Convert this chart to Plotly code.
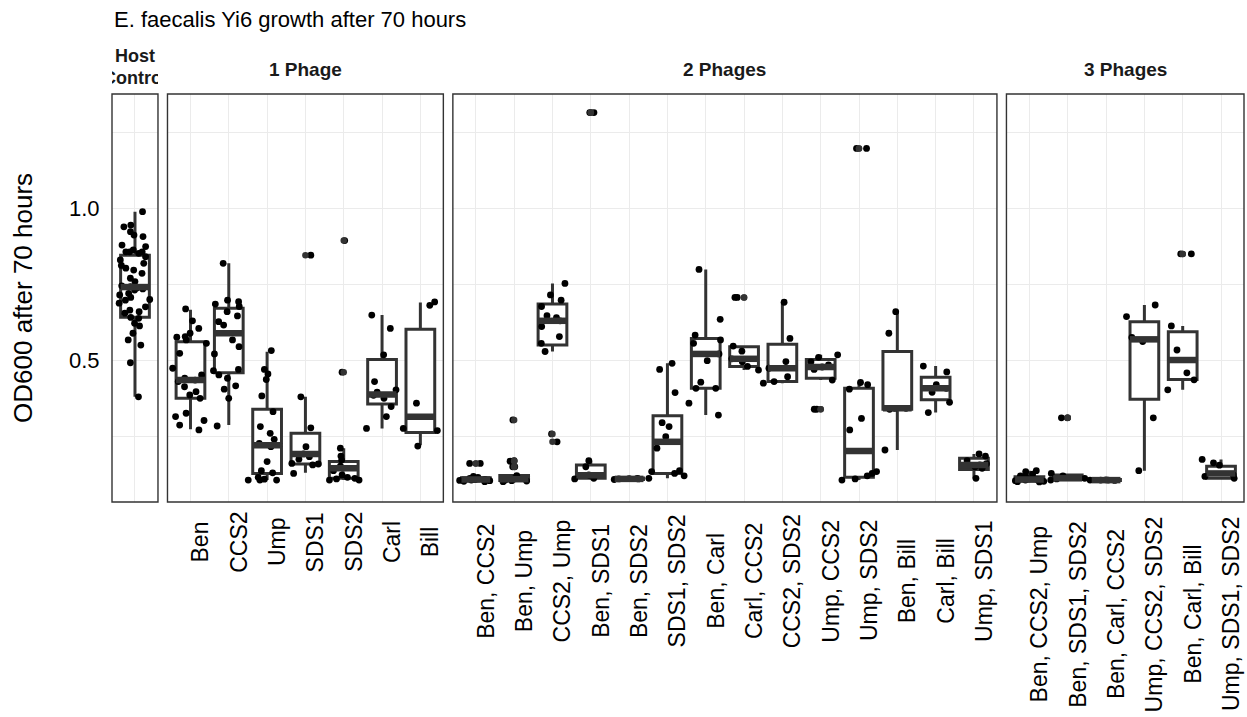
import plotly.graph_objects as go

# ------------------------------------------------------------------
# OD600 of E. faecalis Yi6 after 70 h, grouped by phage cocktail size
# ------------------------------------------------------------------

# Host control (no phage)
host_labels = ["Host Control"]
host_q1 = [0.642]
host_median = [0.741]
host_q3 = [0.846]
host_low = [0.380]
host_high = [0.989]
host_points = [[
    0.989, 0.945, 0.939, 0.923, 0.912, 0.907, 0.879, 0.874, 0.863, 0.857,
    0.857, 0.857, 0.852, 0.841, 0.830, 0.819, 0.803, 0.797, 0.786, 0.770,
    0.759, 0.745, 0.742, 0.738, 0.731, 0.720, 0.715, 0.707, 0.698, 0.688,
    0.676, 0.665, 0.655, 0.641, 0.638, 0.622, 0.613, 0.589, 0.567, 0.550,
    0.492, 0.380, 0.700, 0.735, 0.812, 0.660,
]]

# Single phage
one_labels = ["Ben", "CCS2", "Ump", "SDS1", "SDS2", "Carl", "Bill"]
one_q1 = [0.375, 0.459, 0.128, 0.159, 0.112, 0.356, 0.263]
one_median = [0.435, 0.589, 0.221, 0.192, 0.145, 0.388, 0.314]
one_q3 = [0.561, 0.671, 0.339, 0.260, 0.167, 0.503, 0.602]
one_low = [0.273, 0.287, 0.106, 0.130, 0.106, 0.276, 0.221]
one_high = [0.666, 0.819, 0.528, 0.380, 0.211, 0.649, 0.690]
one_points = [
    [0.669, 0.630, 0.605, 0.589, 0.578, 0.576, 0.567, 0.556, 0.523, 0.474, 0.452,
     0.441, 0.435, 0.430, 0.413, 0.397, 0.386, 0.375, 0.326, 0.315, 0.302, 0.287, 0.271],
    [0.819, 0.698, 0.693, 0.685, 0.677, 0.660, 0.646, 0.627, 0.616, 0.567, 0.545,
     0.521, 0.470, 0.466, 0.452, 0.441, 0.416, 0.405, 0.375, 0.284],
    [0.532, 0.470, 0.455, 0.437, 0.383, 0.331, 0.282, 0.260, 0.240, 0.227, 0.216,
     0.167, 0.137, 0.130, 0.115, 0.106, 0.106, 0.106, 0.109],
    [0.846, 0.380, 0.278, 0.216, 0.192, 0.183, 0.175, 0.161, 0.159, 0.156, 0.128],
    [0.894, 0.461, 0.211, 0.185, 0.172, 0.152, 0.145, 0.137, 0.123, 0.115, 0.112,
     0.110, 0.106, 0.106],
    [0.649, 0.605, 0.518, 0.430, 0.403, 0.395, 0.385, 0.375, 0.348, 0.315, 0.276],
    [0.692, 0.681, 0.359, 0.276, 0.269, 0.218],
]

# Two-phage cocktails
two_labels = ["Ben, CCS2", "Ben, Ump", "CCS2, Ump", "Ben, SDS1", "Ben, SDS2",
              "SDS1, SDS2", "Ben, Carl", "Carl, CCS2", "CCS2, SDS2", "Ump, CCS2",
              "Ump, SDS2", "Ben, Bill", "Carl, Bill", "Ump, SDS1"]
two_q1 = [0.104, 0.105, 0.550, 0.112, 0.108, 0.128, 0.408, 0.480, 0.430, 0.441,
          0.115, 0.339, 0.370, 0.141]
two_median = [0.108, 0.109, 0.630, 0.122, 0.110, 0.232, 0.521, 0.505, 0.474, 0.478,
              0.202, 0.342, 0.408, 0.156]
two_q3 = [0.114, 0.121, 0.685, 0.156, 0.113, 0.318, 0.572, 0.545, 0.553, 0.503,
          0.408, 0.529, 0.444, 0.178]
two_low = [0.100, 0.100, 0.529, 0.110, 0.106, 0.112, 0.320, 0.468, 0.425, 0.435,
           0.106, 0.205, 0.328, 0.112]
two_high = [0.120, 0.125, 0.753, 0.170, 0.115, 0.490, 0.799, 0.547, 0.691, 0.518,
            0.427, 0.660, 0.481, 0.192]
two_points = [
    [0.161, 0.161, 0.118, 0.115, 0.112, 0.110, 0.108, 0.106, 0.105, 0.104, 0.102,
     0.101, 0.108, 0.110],
    [0.304, 0.170, 0.168, 0.150, 0.150, 0.121, 0.110, 0.108, 0.106, 0.104, 0.103, 0.101],
    [0.753, 0.715, 0.698, 0.677, 0.647, 0.640, 0.630, 0.611, 0.578, 0.556, 0.529,
     0.258, 0.232],
    [1.315, 1.315, 0.170, 0.150, 0.123, 0.120, 0.112, 0.110],
    [0.112, 0.110, 0.110, 0.108, 0.111],
    [0.490, 0.470, 0.394, 0.295, 0.282, 0.249, 0.211, 0.137, 0.134, 0.128, 0.120, 0.112],
    [0.799, 0.635, 0.583, 0.567, 0.556, 0.521, 0.499, 0.428, 0.408, 0.408, 0.359, 0.320],
    [0.707, 0.707, 0.547, 0.530, 0.505, 0.495, 0.480, 0.468],
    [0.691, 0.572, 0.496, 0.474, 0.446, 0.430, 0.425],
    [0.518, 0.510, 0.495, 0.485, 0.478, 0.470, 0.435, 0.339, 0.339],
    [1.197, 1.197, 0.427, 0.420, 0.405, 0.309, 0.271, 0.134, 0.128, 0.120, 0.110, 0.106],
    [0.660, 0.589, 0.342, 0.342, 0.339, 0.205],
    [0.481, 0.462, 0.420, 0.408, 0.395, 0.362, 0.328],
    [0.192, 0.185, 0.170, 0.160, 0.156, 0.150, 0.145, 0.112],
]

# Three-phage cocktails
three_labels = ["Ben, CCS2, Ump", "Ben, SDS1, SDS2", "Ben, Carl, CCS2",
                "Ump, CCS2, SDS2", "Ben, Carl, Bill", "Ump, SDS1, SDS2"]
three_q1 = [0.103, 0.108, 0.105, 0.372, 0.437, 0.112]
three_median = [0.108, 0.112, 0.106, 0.569, 0.501, 0.128]
three_q3 = [0.117, 0.123, 0.108, 0.627, 0.594, 0.152]
three_low = [0.100, 0.104, 0.104, 0.137, 0.403, 0.110]
three_high = [0.137, 0.128, 0.108, 0.682, 0.613, 0.174]
three_points = [
    [0.137, 0.134, 0.126, 0.120, 0.117, 0.112, 0.110, 0.108, 0.106, 0.104, 0.102,
     0.101, 0.100],
    [0.311, 0.311, 0.128, 0.120, 0.112, 0.110, 0.106],
    [0.106, 0.106, 0.105, 0.107, 0.106],
    [0.682, 0.644, 0.575, 0.562, 0.311, 0.137],
    [0.850, 0.850, 0.613, 0.534, 0.459, 0.436, 0.403],
    [0.174, 0.163, 0.155, 0.123, 0.118, 0.112],
]

panel_titles = ["Host<br>Control", "1 Phage", "2 Phages", "3 Phages"]

# ------------------------------------------------------------------
# Layout geometry (pixels)
# ------------------------------------------------------------------
W, H = 1247, 717
LEFT, TOP, BOTTOM = 112, 94, 502
UNIT = 38.3        # width of one category slot
GAP = 9.5          # spacing between facets
BOX_W = 0.75
Y_RANGE = [0.034, 1.376]

FONT = "Liberation Sans, Arial, Helvetica, sans-serif"
BOX_COL = "#333333"
GRID_COL = "#EBEBEB"

panels = [
    dict(labels=host_labels, q1=host_q1, med=host_median, q3=host_q3,
         lo=host_low, hi=host_high, pts=host_points, label_mid=None),
    dict(labels=one_labels, q1=one_q1, med=one_median, q3=one_q3,
         lo=one_low, hi=one_high, pts=one_points, label_mid=542),
    dict(labels=two_labels, q1=two_q1, med=two_median, q3=two_q3,
         lo=two_low, hi=two_high, pts=two_points, label_mid=581),
    dict(labels=three_labels, q1=three_q1, med=three_median, q3=three_q3,
         lo=three_low, hi=three_high, pts=three_points, label_mid=614),
]

widths = [(len(p["labels"]) + 0.2) * UNIT for p in panels]
plot_w = sum(widths) + GAP * (len(panels) - 1)
plot_h = BOTTOM - TOP


def paper_y(px):
    return (BOTTOM - px) / plot_h


def paper_x(px):
    return (px - LEFT) / plot_w


fig = go.Figure()
layout_axes = {}
shapes = []
annotations = []

x0 = 0.0
for k, (p, wpx) in enumerate(zip(panels, widths), start=1):
    xa = "x" if k == 1 else f"x{k}"
    ya = "y" if k == 1 else f"y{k}"
    xkey = "xaxis" if k == 1 else f"xaxis{k}"
    ykey = "yaxis" if k == 1 else f"yaxis{k}"
    n = len(p["labels"])
    idx = list(range(n))
    dom = [x0 / plot_w, (x0 + wpx) / plot_w]
    x0 += wpx + GAP

    layout_axes[xkey] = dict(
        domain=dom, anchor=ya, range=[-0.6, n - 0.4],
        tickvals=idx, showticklabels=False, ticks="",
        showgrid=True, gridcolor=GRID_COL, gridwidth=1.3,
        zeroline=False, showline=False, fixedrange=True,
    )
    layout_axes[ykey] = dict(
        domain=[0, 1], anchor=xa, range=Y_RANGE,
        tick0=0, dtick=0.5, tickformat=".1f",
        showticklabels=(k == 1),
        ticks="outside" if k == 1 else "", ticklen=7,
        tickcolor="rgba(0,0,0,0)",
        tickfont=dict(family=FONT, size=22, color="#000000"),
        showgrid=True, gridcolor=GRID_COL, gridwidth=1.3,
        minor=dict(dtick=0.25, tick0=0, showgrid=True,
                   gridcolor=GRID_COL, gridwidth=1.0),
        zeroline=False, showline=False, fixedrange=True,
    )

    # boxes from the summary statistics
    fig.add_trace(go.Box(
        x=idx, q1=p["q1"], median=p["med"], q3=p["q3"],
        lowerfence=p["lo"], upperfence=p["hi"],
        orientation="v", width=BOX_W, whiskerwidth=0,
        fillcolor="white", line=dict(color=BOX_COL, width=3),
        boxpoints=False, xaxis=xa, yaxis=ya,
        hoverinfo="skip", showlegend=False,
    ))

    # thick median bars
    mx, my = [], []
    for i, m in zip(idx, p["med"]):
        mx += [i - BOX_W / 2, i + BOX_W / 2, None]
        my += [m, m, None]
    fig.add_trace(go.Scatter(
        x=mx, y=my, mode="lines", line=dict(color=BOX_COL, width=6.5),
        xaxis=xa, yaxis=ya, hoverinfo="skip", showlegend=False,
    ))

    # outliers drawn by the boxplot, at the category centre
    ox, oy = [], []
    for i, vals, lo, hi in zip(idx, p["pts"], p["lo"], p["hi"]):
        for v in vals:
            if v > hi + 0.005 or v < lo - 0.005:
                ox.append(i)
                oy.append(v)
    if ox:
        fig.add_trace(go.Scatter(
            x=ox, y=oy, mode="markers",
            marker=dict(color=BOX_COL, size=6.5, line=dict(width=0)),
            xaxis=xa, yaxis=ya, hoverinfo="skip", showlegend=False,
        ))

    # jittered raw observations
    jx, jy = [], []
    for i, vals in zip(idx, p["pts"]):
        jx += [i] * len(vals)
        jy += vals
    fig.add_trace(go.Box(
        x=jx, y=jy, boxpoints="all", jitter=1.0, pointpos=0,
        width=1.0, whiskerwidth=0,
        fillcolor="rgba(0,0,0,0)", line=dict(color="rgba(0,0,0,0)", width=0),
        marker=dict(color="#000000", size=6.8, line=dict(width=0)),
        xaxis=xa, yaxis=ya, hoverinfo="skip", showlegend=False,
    ))

    # panel border
    shapes.append(dict(
        type="rect", xref=f"{xa} domain", yref=f"{ya} domain",
        x0=0, x1=1, y0=0, y1=1, layer="above",
        line=dict(color=BOX_COL, width=1.4), fillcolor="rgba(0,0,0,0)",
    ))

    # facet strip label (the narrow host strip clips its two-line label)
    if k == 1:
        for txt, ypx in (("<b>Host</b>", 56), ("<b>Control</b>", 78)):
            annotations.append(dict(
                text=txt, xref=f"{xa} domain", x=0.5, xanchor="center",
                yref="paper", y=paper_y(ypx), yanchor="middle",
                width=wpx, height=18, borderpad=0, showarrow=False,
                font=dict(family=FONT, size=18, color="#1A1A1A"),
            ))
    else:
        annotations.append(dict(
            text=f"<b>{panel_titles[k - 1]}</b>", xref=f"{xa} domain", x=0.5,
            xanchor="center", yref="paper", y=paper_y(69), yanchor="middle",
            showarrow=False, font=dict(family=FONT, size=19, color="#1A1A1A"),
        ))

    # rotated category labels, centred within each facet's label block
    if p["label_mid"] is not None:
        for i, lab in zip(idx, p["labels"]):
            annotations.append(dict(
                text=lab, xref=xa, x=i, xanchor="left",
                yref="paper", y=paper_y(p["label_mid"]), yanchor="middle",
                textangle=-90, showarrow=False, xshift=-5,
                font=dict(family=FONT, size=23, color="#000000"),
            ))

# plot title and y-axis title
annotations.append(dict(
    text="E. faecalis Yi6 growth after 70 hours", xref="paper", x=0,
    xanchor="left", yref="paper", y=paper_y(20), yanchor="middle",
    showarrow=False, font=dict(family=FONT, size=22, color="#000000"),
))
annotations.append(dict(
    text="OD600 after 70 hours", xref="paper", x=paper_x(23), xanchor="center",
    yref="paper", y=0.5, yanchor="middle", textangle=-90,
    showarrow=False, font=dict(family=FONT, size=26, color="#000000"),
))

fig.update_layout(
    width=W, height=H,
    margin=dict(l=LEFT, r=W - LEFT - plot_w, t=TOP, b=H - BOTTOM, autoexpand=False),
    paper_bgcolor="white", plot_bgcolor="white",
    boxmode="overlay", showlegend=False,
    shapes=shapes, annotations=annotations,
    font=dict(family=FONT),
    **layout_axes,
)

fig.write_html("out.html", config={"displayModeBar": False})
